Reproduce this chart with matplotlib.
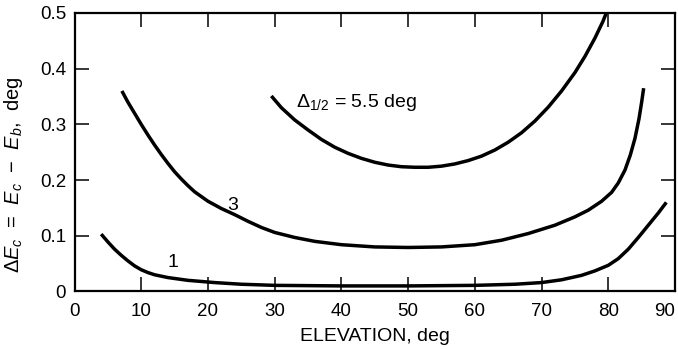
import matplotlib
matplotlib.use("Agg")
import matplotlib.pyplot as plt

plt.rcParams['font.family'] = ['Liberation Sans', 'DejaVu Sans']
plt.rcParams['mathtext.fontset'] = 'custom'
plt.rcParams['mathtext.rm'] = 'Liberation Sans'
plt.rcParams['mathtext.it'] = 'Liberation Sans:italic'
plt.rcParams['mathtext.sf'] = 'Liberation Sans'

# Data
x_55 = [29.5, 31, 33, 35, 37, 39, 41, 43, 45, 47, 49, 51, 53, 55, 57, 59, 61, 63, 65,
        67, 69, 71, 73, 75, 76.5, 78, 79.2, 80.2]
y_55 = [0.351, 0.330, 0.308, 0.290, 0.273, 0.259, 0.248, 0.239, 0.232, 0.227, 0.224,
        0.223, 0.223, 0.225, 0.229, 0.235, 0.243, 0.254, 0.268, 0.285, 0.306, 0.331,
        0.360, 0.393, 0.422, 0.455, 0.485, 0.515]

x_3 = [7.1, 8, 9, 10, 11, 12, 13, 14, 15, 16, 17, 18, 20, 22, 24, 26, 28, 30, 33, 36,
       40, 45, 50, 55, 60, 64, 68, 72, 75, 77, 79, 80.5, 81.5, 82.5, 83.3, 84, 84.6,
       85, 85.3]
y_3 = [0.360, 0.340, 0.320, 0.300, 0.281, 0.263, 0.246, 0.230, 0.215, 0.202, 0.190,
       0.179, 0.162, 0.149, 0.138, 0.126, 0.115, 0.106, 0.097, 0.090, 0.084, 0.080,
       0.079, 0.080, 0.084, 0.092, 0.104, 0.119, 0.134, 0.146, 0.162, 0.178, 0.195,
       0.218, 0.245, 0.275, 0.310, 0.340, 0.365]

x_1 = [4.0, 5, 6, 7, 8, 9, 10, 11, 12, 14, 17, 21, 25, 30, 40, 50, 60, 66, 70, 73, 76,
       78, 80, 81.5, 83, 84.5, 86, 87.5, 88.7]
y_1 = [0.103, 0.089, 0.076, 0.065, 0.055, 0.046, 0.039, 0.034, 0.030, 0.025, 0.020,
       0.016, 0.013, 0.011, 0.010, 0.010, 0.011, 0.013, 0.016, 0.021, 0.029, 0.037,
       0.047, 0.059, 0.076, 0.097, 0.119, 0.141, 0.160]

x_ticks = [0, 10, 20, 30, 40, 50, 60, 70, 80, 90]
x_ticklabels = ['0', '10', '20', '30', '40', '50', '60', '70', '80', '90']
y_ticks = [0, 0.1, 0.2, 0.3, 0.4, 0.5]
y_ticklabels = ['0', '0.1', '0.2', '0.3', '0.4', '0.5']

fig = plt.figure(figsize=(6.78, 3.49), dpi=100)
ax = fig.add_axes([0.1099, 0.1648, 0.8857, 0.798])

for xs, ys in [(x_55, y_55), (x_3, y_3), (x_1, y_1)]:
    ax.plot(xs, ys, color='black', lw=2.5, solid_joinstyle='round', solid_capstyle='butt')

ax.set_xlim(0, 90)
ax.set_ylim(0, 0.5)
ax.set_xticks(x_ticks)
ax.set_xticklabels(x_ticklabels)
ax.set_yticks(y_ticks)
ax.set_yticklabels(y_ticklabels)
ax.tick_params(direction='in', length=10, width=1.1, top=True, right=True,
               labelsize=13.5)
ax.tick_params(axis='x', pad=8)
ax.tick_params(axis='y', pad=6)
for s in ax.spines.values():
    s.set_linewidth(1.6)

# keep the last x tick label inside the figure
ax.get_xticklabels()[-1].set_horizontalalignment('right')

ax.text(33.2, 0.34, r'$\Delta_{1/2}$ = 5.5 deg', fontsize=14, ha='left', va='center')
ax.text(23.7, 0.154, '3', fontsize=14, ha='center', va='center')
ax.text(14.7, 0.052, '1', fontsize=14, ha='center', va='center')

ax.set_xlabel('ELEVATION, deg', fontsize=14, labelpad=6)
ax.set_ylabel(r'$\Delta E_c$  =  $E_c$  $-$  $E_b$,  deg', fontsize=14.5)
ax.yaxis.set_label_coords(-0.082, 0.418)

fig.savefig('out.png', dpi=100)
